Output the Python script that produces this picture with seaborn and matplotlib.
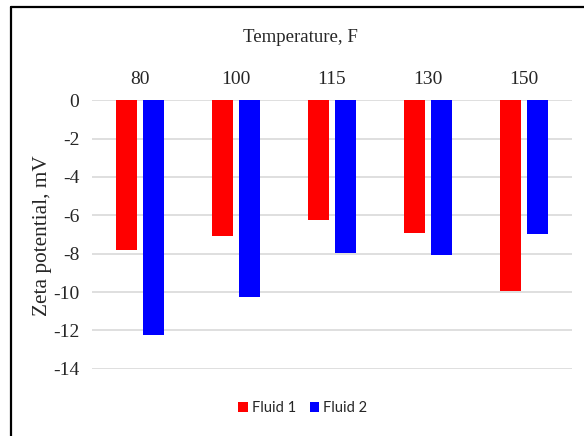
import matplotlib
matplotlib.use("Agg")
import matplotlib.pyplot as plt
from matplotlib.patches import Patch
from matplotlib.lines import Line2D
import seaborn as sns
import pandas as pd

# Zeta potential of two fluids at several temperatures
temperatures = ["80", "100", "115", "130", "150"]
fluid_1 = [-7.8, -7.1, -6.25, -6.9, -9.95]
fluid_2 = [-12.25, -10.25, -7.95, -8.05, -7.0]
series_names = ["Fluid 1", "Fluid 2"]
series_colors = ["#FF0000", "#0000FF"]
y_ticks = [0, -2, -4, -6, -8, -10, -12, -14]

df = pd.DataFrame({
    "Temperature": temperatures * 2,
    "Zeta": fluid_1 + fluid_2,
    "Fluid": [series_names[0]] * len(temperatures) + [series_names[1]] * len(temperatures),
})

sns.set_style("white")
plt.rcParams["font.family"] = ["Liberation Serif", "DejaVu Serif"]

fig = plt.figure(figsize=(5.84, 4.36), dpi=100)
ax = fig.add_axes([92 / 584, 1 - 368.7 / 436, 480 / 584, (368.7 - 100.3) / 436])

sns.barplot(
    data=df, x="Temperature", y="Zeta", hue="Fluid",
    order=temperatures, hue_order=series_names,
    palette=series_colors, width=0.5625, gap=0.21,
    linewidth=0, saturation=1, legend=False, ax=ax,
)

ax.set_xlim(-0.5, len(temperatures) - 0.5)
ax.set_ylim(-14, 0)
ax.set_yticks(y_ticks)
ax.set_yticklabels([str(v) for v in y_ticks])
ax.yaxis.grid(True, color="#d9d9d9", linewidth=1.2)
ax.xaxis.grid(False)
ax.set_axisbelow(True)
for s in ax.spines.values():
    s.set_visible(False)

ax.xaxis.tick_top()
ax.tick_params(axis="x", length=0, pad=9, labelsize=14)
ax.tick_params(axis="y", length=0, pad=9, labelsize=14)
ax.set_xlabel("")
ax.set_ylabel("Zeta potential, mV", fontsize=15.3, va="center")
ax.yaxis.set_label_coords(-49 / 480, 0.494)

fig.text(300 / 584, 1 - 38 / 436, "Temperature, F", ha="center", va="center", fontsize=13.6)

handles = [Patch(facecolor=c, edgecolor="none", label=n) for c, n in zip(series_colors, series_names)]
fig.legend(
    handles=handles, loc="center", bbox_to_anchor=(303 / 584, 1 - 408 / 436),
    ncol=2, frameon=False, prop={"family": "Lato", "size": 10.5},
    handlelength=0.65, handleheight=0.65, handletextpad=0.3, columnspacing=0.9,
)

# Frame lines along the top and left of the figure
fig.add_artist(Line2D([11 / 584, 1], [1 - 7.5 / 436, 1 - 7.5 / 436], transform=fig.transFigure, color="black", linewidth=1.6))
fig.add_artist(Line2D([11 / 584, 11 / 584], [0, 1 - 7.5 / 436], transform=fig.transFigure, color="black", linewidth=1.6))

fig.savefig("out.png", dpi=100)
